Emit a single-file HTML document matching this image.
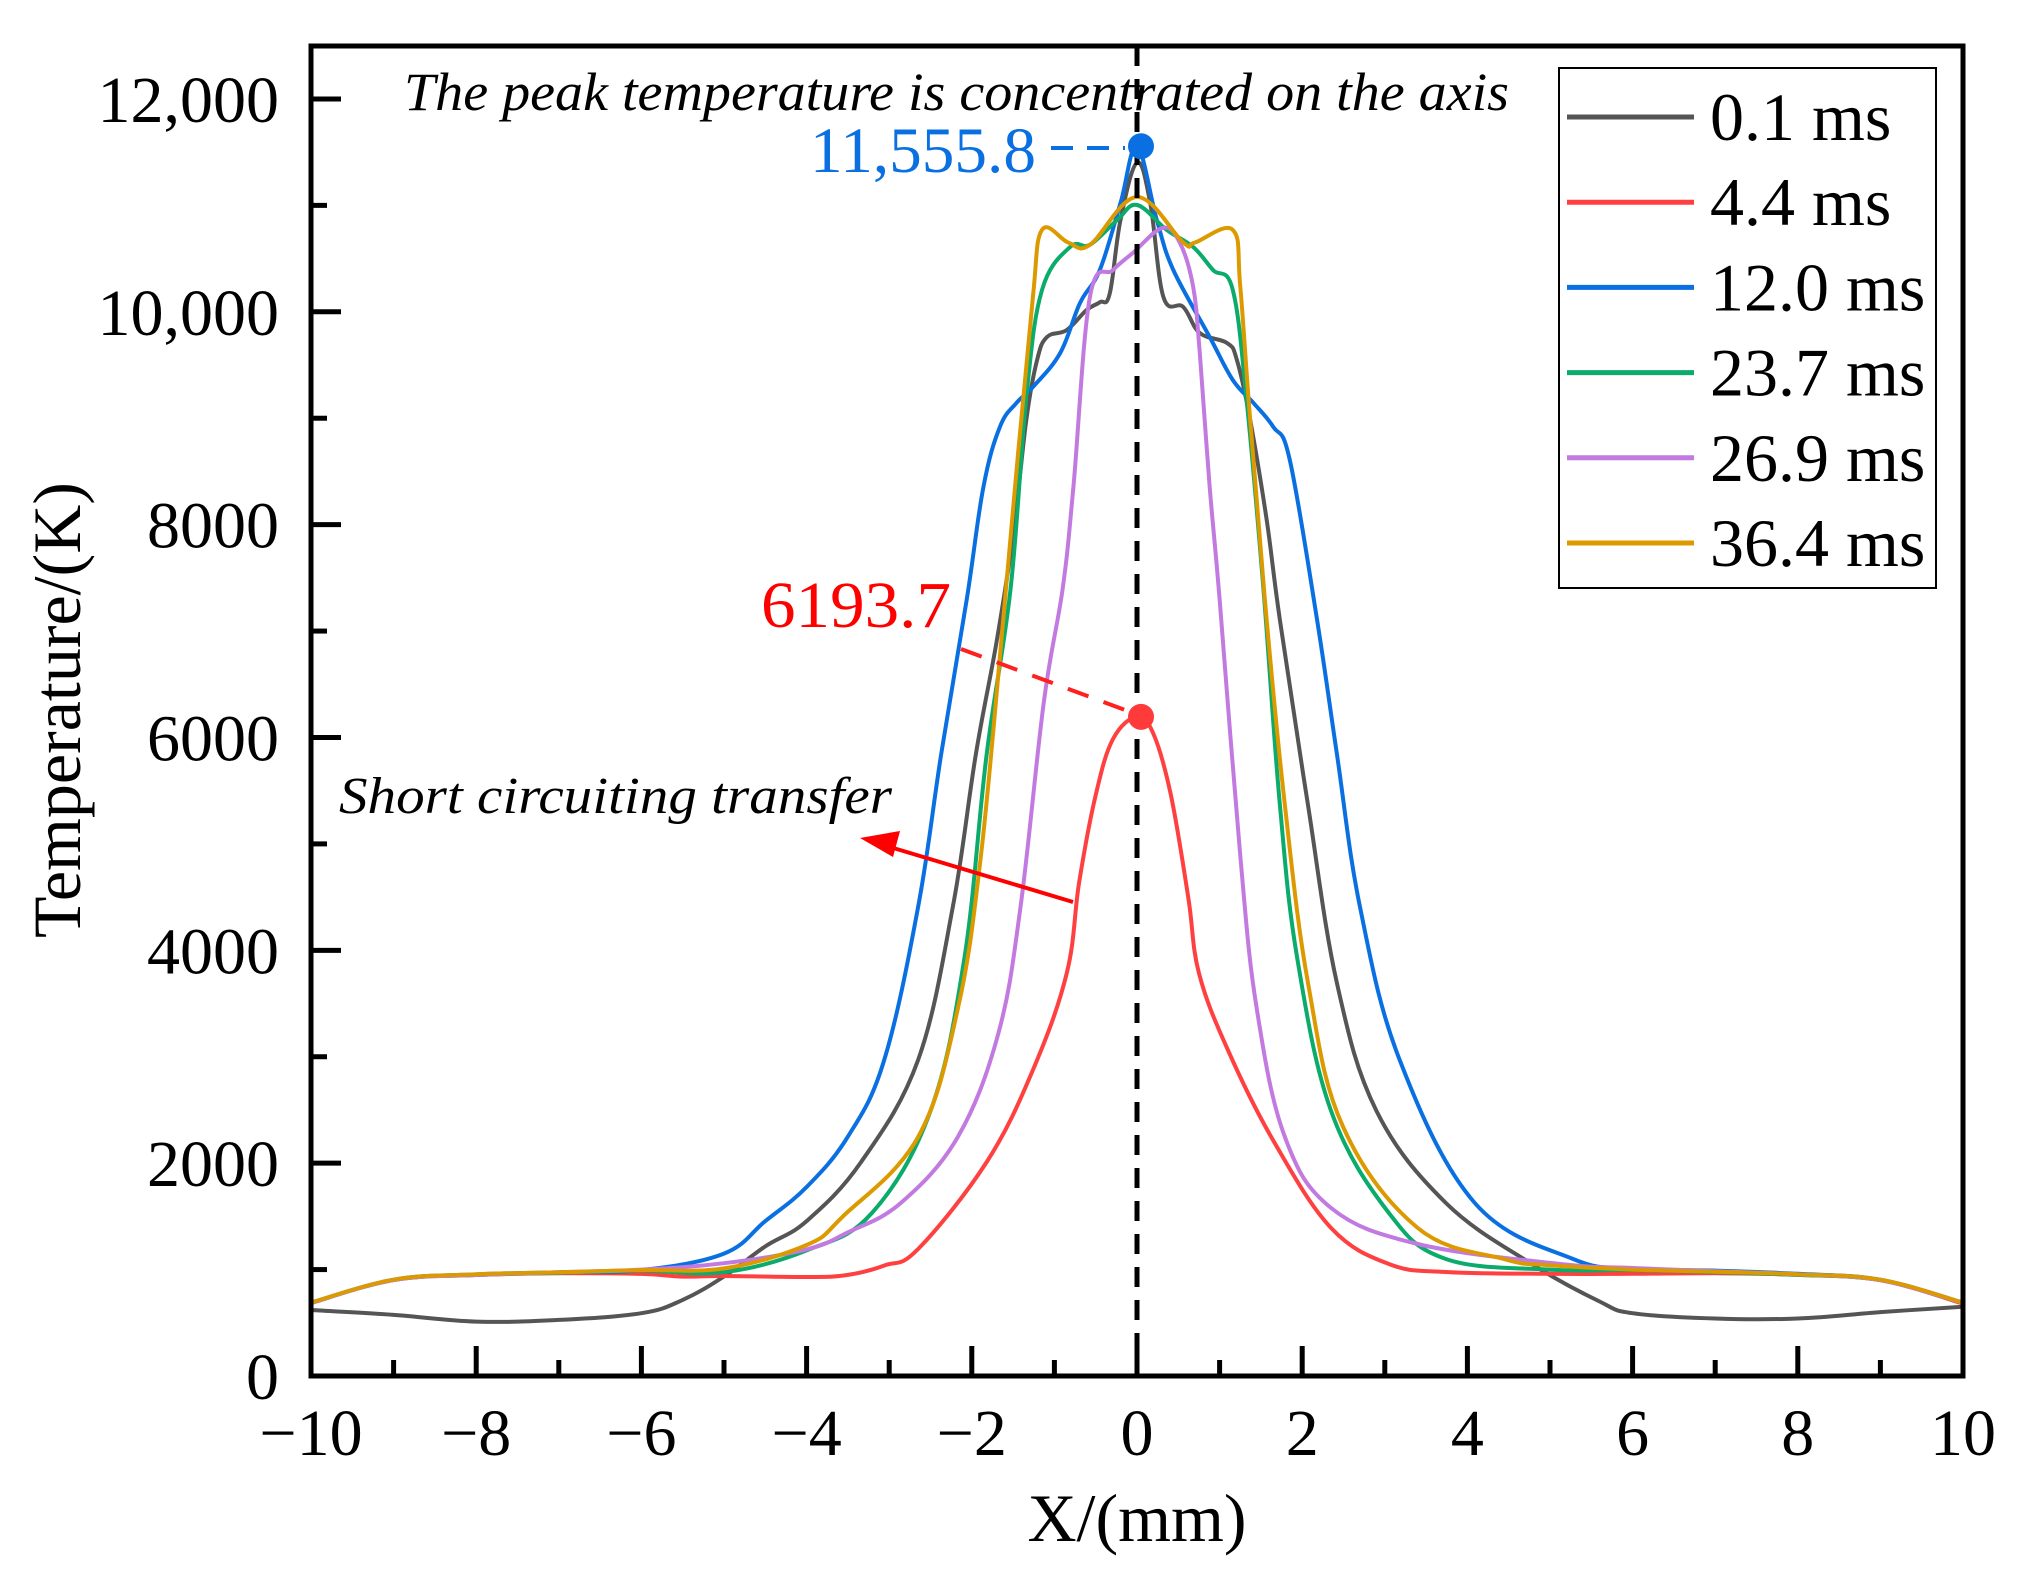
<!DOCTYPE html>
<html><head><meta charset="utf-8"><style>
html,body{margin:0;padding:0;background:#fff;}
svg{display:block;font-family:"Liberation Serif",serif;}
</style></head><body>
<svg id="chart" width="2024" height="1583" viewBox="0 0 2024 1583" xmlns="http://www.w3.org/2000/svg">
<g id="curves"></g>
<g id="axes"></g>
</svg>
<script>
const xTicks = [-10,-8,-6,-4,-2,0,2,4,6,8,10];
const xTickLabels = ["\u221210","\u22128","\u22126","\u22124","\u22122","0","2","4","6","8","10"];
const yTicks = [0,2000,4000,6000,8000,10000,12000];
const yTickLabels = ["0","2000","4000","6000","8000","10,000","12,000"];
const seriesNames = ["0.1 ms","4.4 ms","12.0 ms","23.7 ms","26.9 ms","36.4 ms"];
const seriesColors = ["#555555","#ff4040","#0a70e2","#0bab6c","#c27ae0","#dd9a00"];

const x01 = [-10,-9,-8,-7,-6,-5.5,-5,-4.5,-4,-3.34,-2.65,-2.23,-1.95,-1.7,-1.5,-1.34,-1.21,-1.09,-0.85,-0.61,-0.45,-0.33,-0.2,0,0.16,0.32,0.56,0.76,1.09,1.21,1.37,1.57,1.73,2.07,2.42,2.9,3.74,4.78,5.6,6,7,8,9,10];
const y01 = [620,574,511,527,590,715,935,1218,1456,2011,2969,4407,5845,6900,7900,8983,9547,9763,9829,10017,10090,10170,10863,11400,11022,10139,10045,9801,9707,9547,8983,8044,7104,5365,3693,2490,1626,1052,700,590,540,540,600,650];

const x44 = [-10,-9,-8,-7,-6,-5.5,-5,-4,-3.5,-3.05,-2.65,-1.82,-1.26,-0.85,-0.7,-0.5,-0.29,0,0.2,0.41,0.62,0.75,1.1,1.66,2.35,3.05,3.74,5,6,7,8,9,10];
const y44 = [686,902,949,965,959,934,940,930,950,1040,1193,2011,2875,3787,4642,5459,5986,6193.7,6033,5459,4500,3787,3063,2199,1391,1052,977,960,960,965,950,900,680];

const x120 = [-10,-9,-8,-7,-6,-5,-4.5,-4,-3.5,-3.06,-2.65,-2.37,-2.06,-1.86,-1.66,-1.46,-1.26,-0.93,-0.69,-0.45,-0.2,0,0.24,0.44,0.88,1.16,1.41,1.65,1.85,2.18,2.42,2.7,3.18,4.09,5.28,6,7,8,9,10];
const y120 = [690,905,955,975,995,1150,1456,1776,2250,2969,4407,5845,7300,8353,8918,9143,9293,9613,10083,10393,11022,11555.8,10863,10393,9763,9359,9143,8918,8607,7104,5845,4407,2969,1626,1099,1010,990,960,905,690];

const x237 = [-10,-9,-8,-7,-6,-5,-4,-3.21,-2.5,-2.09,-1.82,-1.53,-1.34,-1.15,-0.81,-0.57,-0.24,0,0.36,0.68,0.92,1.16,1.33,1.53,1.73,1.94,2.35,3.05,3.74,5,6,7,8,9,10];
const y237 = [686,902,949,971,990,975,1180,1532,2490,3928,5845,7400,9199,10205,10609,10630,10863,11004,10770,10609,10393,10205,9143,7400,5365,3928,2490,1532,1099,1000,995,975,950,900,686];

const x269 = [-10,-9,-8,-7,-6,-5,-4,-3.5,-2.86,-2.17,-1.68,-1.41,-1.13,-0.9,-0.77,-0.57,-0.29,-0.05,0.31,0.52,0.68,0.76,0.88,1.0,1.25,1.45,1.79,2.35,3.4,5.13,6,7,8,9,10];
const y269 = [686,902,949,975,1000,1060,1190,1350,1626,2246,3214,4407,6324,7400,8353,10139,10393,10553,10788,10646,10233,9613,8353,7300,4886,3449,2246,1579,1240,1052,1015,985,955,900,686];

const x364 = [-10,-9,-8,-7,-6,-5,-4,-3.56,-2.65,-2.17,-1.89,-1.62,-1.44,-1.26,-1.15,-0.83,-0.57,0,0.56,0.7,1.16,1.25,1.37,1.57,1.79,2.07,2.49,3.4,4.44,5,6,7,8,9,10];
const y364 = [690,905,955,975,995,1011,1231,1500,2246,3449,4886,7104,8673,10139,10770,10650,10630,11079,10650,10650,10770,10233,8983,7104,5365,3693,2349,1391,1099,1040,1000,980,955,905,690];

const seriesX = [x01,x44,x120,x237,x269,x364];
const seriesY = [y01,y44,y120,y237,y269,y364];

const NS = "http://www.w3.org/2000/svg";
const L=311,R=1963,T=46,B=1376;
const xMin=-10,xMax=10;
const sx = v => L + (v-xMin)/(xMax-xMin)*(R-L);
function syf(v){ return B - v*0.10642; }
function mk(tag, attrs, parent){ const e=document.createElementNS(NS,tag); for(const k in attrs) e.setAttribute(k,attrs[k]); parent.appendChild(e); return e; }

const curves = document.getElementById('curves');
const axes = document.getElementById('axes');

function smoothPath(pts){
  let d = "M"+pts[0][0].toFixed(1)+","+pts[0][1].toFixed(1);
  const k = 0.18;
  for(let i=0;i<pts.length-1;i++){
    const p0 = pts[Math.max(0,i-1)], p1 = pts[i], p2 = pts[i+1], p3 = pts[Math.min(pts.length-1,i+2)];
    const c1x = p1[0] + (p2[0]-p0[0])*k, c1y = p1[1] + (p2[1]-p0[1])*k;
    const c2x = p2[0] - (p3[0]-p1[0])*k, c2y = p2[1] - (p3[1]-p1[1])*k;
    d += "C"+c1x.toFixed(1)+","+c1y.toFixed(1)+" "+c2x.toFixed(1)+","+c2y.toFixed(1)+" "+p2[0].toFixed(1)+","+p2[1].toFixed(1);
  }
  return d;
}

for(let s=0;s<seriesX.length;s++){
  const pts = seriesX[s].map((x,i)=>[sx(x), syf(seriesY[s][i])]);
  const p = mk('path',{d:smoothPath(pts),fill:'none',stroke:seriesColors[s],'stroke-width':4,'stroke-linejoin':'round'},curves);
  
  
}

const zl = mk('line',{x1:sx(0),y1:T,x2:sx(0),y2:B,stroke:'#000','stroke-width':5,'stroke-dasharray':'20 13'},axes);



const fr = mk('rect',{x:L,y:T,width:R-L,height:B-T,fill:'none',stroke:'#000','stroke-width':5},axes);



for(let v=-10; v<=10; v++){
  const major = (v%2===0);
  const t = mk('line',{x1:sx(v),y1:B,x2:sx(v),y2:B-(major?30:16),stroke:'#000','stroke-width':5},axes);
  
  
}
for(let i=0;i<xTicks.length;i++){
  const t = mk('text',{x:sx(xTicks[i]),y:1455,'font-size':66,'text-anchor':'middle',fill:'#000'},axes);
  t.textContent = xTickLabels[i];
  
  
}
for(let v=0; v<=12000; v+=1000){
  const major = (v%2000===0);
  const t = mk('line',{x1:L,y1:syf(v),x2:L+(major?30:16),y2:syf(v),stroke:'#000','stroke-width':5},axes);
  
  
}
for(let i=0;i<yTicks.length;i++){
  const t = mk('text',{x:279,y:syf(yTicks[i])+23,'font-size':66,'text-anchor':'end',fill:'#000'},axes);
  t.textContent = yTickLabels[i];
  
  
}
const xt = mk('text',{x:1137,y:1541,'font-size':68,'text-anchor':'middle',fill:'#000'},axes);
xt.textContent = "X/(mm)";


const yt = mk('text',{x:0,y:0,'font-size':68,'text-anchor':'middle',fill:'#000',transform:'translate(80,710) rotate(-90)'},axes);
yt.textContent = "Temperature/(K)";



const a1 = mk('text',{x:404,y:110,'font-size':54,'font-style':'italic',textLength:1105,lengthAdjust:'spacingAndGlyphs',fill:'#000'},axes);
a1.textContent = "The peak temperature is concentrated on the axis";



const bl = mk('line',{x1:1051,y1:148,x2:1125,y2:148,stroke:'#0a70e2','stroke-width':4,'stroke-dasharray':'22 14'},axes);


const bd = mk('circle',{cx:1141,cy:syf(11555.8),r:13,fill:'#0a70e2'},axes);


const bt = mk('text',{x:810,y:172,'font-size':65,fill:'#0a70e2',textLength:226,lengthAdjust:'spacingAndGlyphs'},axes);
bt.textContent = "11,555.8";



const rl = mk('line',{x1:961,y1:649,x2:1125,y2:710,stroke:'#ff2020','stroke-width':4,'stroke-dasharray':'22 16'},axes);


const rd = mk('circle',{cx:1141,cy:syf(6193.7),r:13,fill:'#ff3a3a'},axes);


const rt = mk('text',{x:761,y:627,'font-size':66,fill:'#ff0000',textLength:190,lengthAdjust:'spacingAndGlyphs'},axes);
rt.textContent = "6193.7";



const st = mk('text',{x:339,y:813,'font-size':52,'font-style':'italic',fill:'#000',textLength:553,lengthAdjust:'spacingAndGlyphs'},axes);
st.textContent = "Short circuiting transfer";


const ar = mk('line',{x1:1073,y1:902,x2:890,y2:847,stroke:'#ff0000','stroke-width':4},axes);


const ah = mk('polygon',{points:'860,838 900,831 893,857',fill:'#ff0000'},axes);



const lg = mk('g',{},axes);


const lb = mk('rect',{x:1559,y:68,width:377,height:520,fill:'#fff',stroke:'#000','stroke-width':2},lg);


for(let s=0;s<seriesNames.length;s++){
  const y = 117 + s*85.2;
  const ln = mk('line',{x1:1567,y1:y,x2:1694,y2:y,stroke:seriesColors[s],'stroke-width':5},lg);
  
  
  const tx = mk('text',{x:1710,y:y+23,'font-size':68,fill:'#000'},lg);
  tx.textContent = seriesNames[s];
  
  
}
</script>
</body></html>
